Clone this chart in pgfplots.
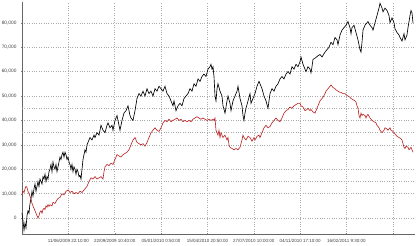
\documentclass[border=0pt]{standalone}
\usepackage{fontspec}
\setmainfont{Liberation Sans}
\usepackage{pgfplots}
\pgfplotsset{compat=1.18}
\definecolor{redline}{RGB}{185,30,30}
\definecolor{gridc}{RGB}{170,170,170}
\begin{document}
\begin{tikzpicture}
\useasboundingbox (-22pt,-12pt) rectangle (398pt,234pt);
\begin{axis}[
  at={(0,0)}, anchor=south west,
  scale only axis, width=393pt, height=232pt,
  xmin=22, xmax=415, ymin=-6.5, ymax=88.5,
  axis x line=bottom, axis y line=left,
  axis line style={-, gray!80!black, line width=0.5pt},
  xtick={22,68.35,114.7,161.05,207.4,253.75,300.1,346.45,392.8},
  xticklabels={,11/06/2009 22:10:00,22/09/2009 10:40:00,05/01/2010 0:50:00,15/04/2010 20:50:00,27/07/2010 10:00:00,04/11/2010 17:10:00,16/02/2011 9:30:00,},
  ytick={0,10,20,30,40,50,60,70,80},
  yticklabels={0,10{,}000,20{,}000,30{,}000,40{,}000,50{,}000,60{,}000,70{,}000,80{,}000},
  extra y ticks={15,35,45},
  extra y tick labels={},
  extra y tick style={grid=major, major tick length=0pt},
  tick label style={text=black!75},
  xticklabel style={font=\fontsize{4.5}{5.5}\selectfont, yshift=-1pt},
  yticklabel style={font=\fontsize{4.8}{5.8}\selectfont, xshift=-1pt},
  /pgf/number format/assume math mode=true,
  major tick length=2pt,
  tick style={gray, line width=0.4pt},
  grid=major,
  major grid style={gridc, dotted, line width=0.5pt},
  clip=false,
]
\addplot[black, line width=0.65pt] coordinates {
(22,2)(23,-1)(24,-5)(25,-2)(26,-4)(27,1)(28,3)(29,2)(30,6)(31,8)(32,11)(33,9)(34,12)(35,14)(36,11)(37,13)(38,15)(39,13)(40,16)(41,15)(42,14)(43,17)(44,16)(45,18)(46,15)(47,17)(48,16)(49,19)(50,20)(51,22)(52,19)(53,23)(54,21)(55,20)(56,22)(57,19)(58,21)(59,23)(60,25)(61,24)(62,26)(63,27)(64,25)(65,27)(66,26)(67,24)(68,25)(69,23)(70,22)(71,20)(72,22)(73,19)(74,21)(75,20)(76,18)(77,20)(78,19)(79,17)(80,17.5)(81,16)(82,20)(83,24)(84,26)(85,28)(86,27)(87,30)(88,31)(90,33)(92,32)(94,34)(95,33)(97,35)(99,34)(101,38)(103,36)(105,35)(107,38)(108,39)(110,37)(112,38)(113,36)(115,40)(117,42)(119,38)(120,36)(122,40)(124,43)(126,44)(128,46)(130,42)(131,41)(133,40)(135,44)(137,49)(139,51)(141,50)(143,52)(145,50)(147,53)(149,51)(151,52)(153,50)(155,53)(157,52)(159,54)(161,53)(163,52)(165,54)(167,51)(169,50)(171,48)(173,46)(174,48)(176,44)(178,46)(180,47)(182,46)(184,49)(186,50)(188,51)(190,53)(192,52)(194,55)(196,54)(198,57)(200,56)(202,58)(204,59)(206,58)(208,61)(210,62)(211,63)(212,61)(213,62)(214,58)(215,50)(216,48)(217,53)(218,55)(220,52)(222,50)(223,46)(225,43)(227,48)(228,50)(230,47)(231,44)(233,48)(235,50)(237,52)(238,54)(240,49)(242,46)(243,42)(244,40)(245,43)(246,45)(248,48)(250,51)(251,47)(253,49)(255,51)(257,54)(259,56)(260,55)(262,53)(264,50)(266,48)(268,45)(270,51)(272,53)(274,52)(276,54)(278,55)(280,57)(282,58)(284,57)(286,59)(288,60)(290,59)(292,62)(294,61)(296,63)(298,62)(300,64)(301,66)(303,63)(305,61)(306,60)(308,62)(310,61)(311,59.5)(312,62)(313,65)(315,65.5)(318,66.5)(320,67)(322,66)(325,68)(327,69)(329,70)(331,72)(333,71)(335,74)(337,73)(338,71)(340,75)(342,77)(344,78)(346,79)(348,80.5)(350,78)(351,75.5)(352,78)(354,79)(356,76)(358,73)(360,69)(361,68)(362,72)(363,77)(365,79)(367,80)(368,80.5)(370,79)(372,78)(373,77)(375,80)(377,83)(379,86)(380,88)(382,86)(383,84.5)(385,86)(387,85)(389,83)(390,80)(392,82)(394,80)(395,77.5)(397,76)(399,75)(400,74)(402,72.5)(403,74)(404,75.5)(405,73)(407,75)(408,78)(410,83)(411,85)(412,84)(413,80)
};
\addplot[redline, line width=0.6pt] coordinates {
(22,10)(23,11)(24,10.5)(25,12)(26,13)(27,12.5)(28,11)(29,10)(30,9)(31,8)(32,6)(33,5)(34,4)(35,3)(36,2)(37,1)(38,0)(39,1)(40,2.5)(41,3)(42,2)(43,3.5)(44,4)(45,3.5)(46,5)(47,4.5)(48,5.5)(49,4.8)(50,5.5)(52,5)(53,6.5)(55,6)(57,7.5)(58,8)(60,8.5)(62,10)(64,9.5)(66,11)(68,11.5)(70,10.5)(72,11)(74,10)(76,10.5)(78,10)(80,11)(82,10.5)(84,11.5)(86,12.5)(87,13)(89,15)(91,16.5)(93,16)(95,17)(97,16)(99,16.5)(101,17)(103,16)(104,19)(105,21)(107,22)(109,21.5)(111,22.5)(113,22)(115,24)(117,26)(119,25.5)(121,25)(123,26)(125,26.5)(127,27)(129,28)(131,30)(133,32)(135,33)(137,31)(139,30.5)(141,30)(143,30.5)(145,29.5)(147,31)(149,33)(151,35)(153,36)(155,37)(157,36)(159,35.5)(161,37)(163,39)(165,40)(167,39.5)(169,40.5)(171,39.5)(173,40)(175,40.5)(177,41)(179,40)(181,40.5)(183,39.5)(185,40)(187,39.5)(189,40)(191,39.5)(193,40.5)(195,41)(197,41.5)(199,41)(201,40.5)(203,41)(205,40.5)(207,40)(209,40.5)(211,40)(213,40.5)(214,40)(215,41)(216,36)(217,35)(218,34)(219,36)(220,33)(221,35)(222,34)(223,33)(225,34)(227,32)(228,33)(229,30)(230,29)(232,28.5)(234,28)(236,28.5)(238,28)(240,29)(242,32)(243,34)(244,33)(246,32)(248,33.5)(250,33)(252,31.5)(254,33)(255,32)(257,33.5)(259,34)(260,33)(262,35)(264,37)(266,38)(268,37)(270,37.5)(272,39)(274,40)(276,41)(278,40)(280,39.5)(282,41)(284,43)(286,44)(288,44.5)(290,45.5)(292,45)(294,46)(296,46.5)(298,47)(300,47)(301,46)(303,45.5)(305,44)(307,44.5)(308,45)(310,44)(311,44.5)(313,43.5)(315,43)(317,45)(318,46)(320,48)(322,49)(323,49.5)(325,51)(326,52)(328,53)(330,54)(331,54.5)(333,53.5)(335,53)(336,52.5)(338,52)(340,51.5)(341,51.5)(343,51)(345,51)(346,50.5)(348,50)(350,49.5)(351,49)(353,48.5)(355,48)(356,47.5)(357,46)(358,45)(359,42)(360,41)(361,43)(362,42)(363,42.5)(365,42)(366,41)(367,42)(368,42.5)(370,41)(372,40)(374,39.5)(376,39)(377,38)(379,37)(380,36)(382,35)(384,36)(385,37)(387,36.5)(388,36)(390,37)(391,36)(393,35.5)(395,34.5)(397,33.5)(399,33)(401,32.5)(402,32)(403,30.5)(404,29)(405,28.5)(406,29.5)(408,29)(409,28)(410,28.5)(411,29)(412,28)(413,27)
};
\end{axis}
\end{tikzpicture}
\end{document}
